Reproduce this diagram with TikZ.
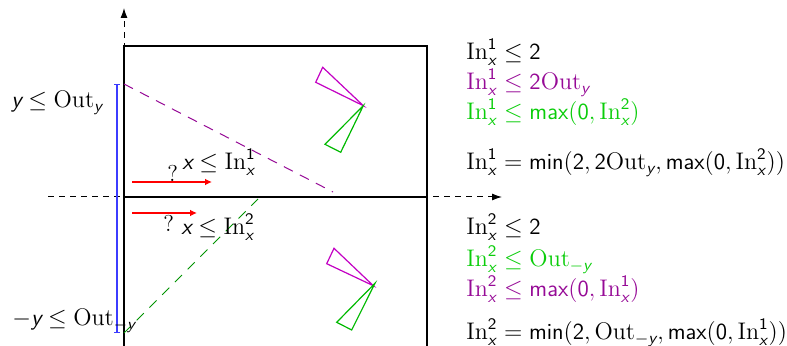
\documentclass[tikz,border=0pt]{standalone}
\usepackage{amsmath}
\usetikzlibrary{arrows.meta}
\definecolor{mag}{RGB}{195,0,195}
\definecolor{purp}{RGB}{150,10,150}
\definecolor{grn}{RGB}{10,205,10}
\definecolor{trigrn}{RGB}{0,185,0}
\definecolor{blu}{RGB}{60,60,255}
\newcommand\vx{\textsf{\itshape x}}
\newcommand\vy{\textsf{\itshape y}}
\newcommand\sfn[1]{\textsf{#1}}
\newcommand\In[1]{\mathrm{In}_{\vx}^{\sfn{#1}}}
\newcommand\Out[1]{\mathrm{Out}_{#1}}
\tikzset{
  axis/.style={dashed, dash pattern=on 3pt off 2.5pt, line width=0.5pt, -{Latex[length=5pt,width=3.5pt]}},
  box/.style={line width=0.6pt},
  diag/.style={dash pattern=on 5pt off 4pt, line width=0.5pt},
  redarrow/.style={red, line width=0.7pt, -{Latex[length=3.5pt,width=3.4pt]}},
  txt/.style={anchor=base west, inner sep=0pt},
  tri/.style={line width=0.6pt, line join=miter},
}
\begin{document}
\begin{tikzpicture}[x=0.5pt,y=-0.5pt, font=\fontsize{11.5}{14}\selectfont]
\useasboundingbox (0,0) rectangle (787,346);
% axes
\coordinate (yb) at (124,346);
\coordinate (yt) at (124,8);
\coordinate (xl) at (48,197);
\coordinate (xr) at (502,197);
\draw[axis] (yb) -- (yt);
\draw[axis] (xl) -- (xr);
% boxes
\coordinate (r1) at (124,46);
\coordinate (r2) at (427,197);
\draw[box] (r1) rectangle (r2);
\coordinate (q1) at (124,346);
\coordinate (q2) at (124,197);
\coordinate (q3) at (427,197);
\coordinate (q4) at (427,346);
\draw[box] (q1) -- (q2) -- (q3) -- (q4);
% blue range
\coordinate (b1) at (117,84);
\coordinate (b2) at (117,333);
\draw[blu, line width=1pt, {Bar[width=3pt,line width=0.6pt]}-{Bar[width=3pt,line width=0.6pt]}] (b1) -- (b2);
% diagonals
\coordinate (p1) at (124,84);
\coordinate (p2) at (333,192);
\draw[diag, purp] (p1) -- (p2);
\coordinate (g1) at (124,333);
\coordinate (g2) at (258,199);
\draw[diag, trigrn!80!black] (g1) -- (g2);
% red arrows
\coordinate (a1) at (132,182);
\coordinate (a2) at (212,182);
\draw[redarrow] (a1) -- (a2);
\coordinate (c1) at (132,213);
\coordinate (c2) at (197,213);
\draw[redarrow] (c1) -- (c2);
% triangles
\draw[tri, mag] (322.7,67.3) -- (315.7,82.3) -- (363.3,105.7) -- cycle;
\draw[tri, trigrn] (363.3,105.7) -- (325,144.3) -- (340.7,152.3) -- cycle;
\draw[tri, mag] (334,248.3) -- (326.7,263.7) -- (373.3,285.7) -- cycle;
\draw[tri, trigrn] (375,283.3) -- (336.7,322.3) -- (351.7,330) -- cycle;
% left labels
\node[txt] (ly) at (11,108) {$\vy \le \Out{\vy}$};
\node[txt] (lmy) at (12,326) {$-\vy \le \Out{-\vy}$};
\node[txt] (q1l) at (167,182) {?};
\node[txt] (x1l) at (182,170) {$\vx \le \In1$};
\node[txt] (q2l) at (163,232) {?};
\node[txt] (x2l) at (181,235) {$\vx \le \In2$};
% right equations
\node[txt] (t1) at (466,60) {$\In1 \le \sfn{2}$};
\node[txt, text=purp] (t2) at (466,90) {$\In1 \le \sfn{2}\Out{\vy}$};
\node[txt, text=grn] (t3) at (466,120) {$\In1 \le \sfn{max}(\sfn{0}, \In2)$};
\node[txt] (t4) at (466,170) {$\In1 = \sfn{min}(\sfn{2}, \sfn{2}\Out{\vy}, \sfn{max}(\sfn{0}, \In2))$};
\node[txt] (s1) at (466,235) {$\In2 \le \sfn{2}$};
\node[txt, text=grn] (s2) at (466,267) {$\In2 \le \Out{-\vy}$};
\node[txt, text=purp] (s3) at (466,297) {$\In2 \le \sfn{max}(\sfn{0}, \In1)$};
\node[txt] (s4) at (466,340) {$\In2 = \sfn{min}(\sfn{2}, \Out{-\vy}, \sfn{max}(\sfn{0}, \In1))$};
\end{tikzpicture}
\end{document}
